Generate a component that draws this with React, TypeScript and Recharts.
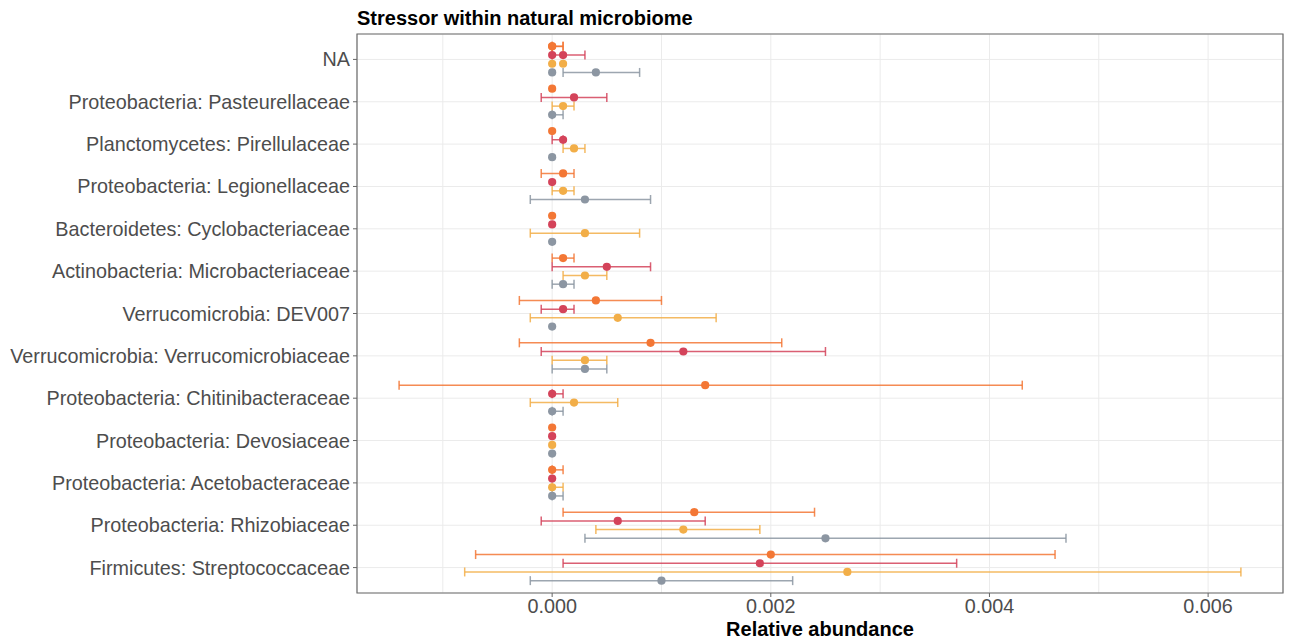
import React from "react";
import { ScatterChart, Scatter, XAxis, YAxis, CartesianGrid, ErrorBar, ReferenceArea } from "recharts";

const categories = [
  "NA",
  "Proteobacteria: Pasteurellaceae",
  "Planctomycetes: Pirellulaceae",
  "Proteobacteria: Legionellaceae",
  "Bacteroidetes: Cyclobacteriaceae",
  "Actinobacteria: Microbacteriaceae",
  "Verrucomicrobia: DEV007",
  "Verrucomicrobia: Verrucomicrobiaceae",
  "Proteobacteria: Chitinibacteraceae",
  "Proteobacteria: Devosiaceae",
  "Proteobacteria: Acetobacteraceae",
  "Proteobacteria: Rhizobiaceae",
  "Firmicutes: Streptococcaceae",
];

// row of each taxon (two unassigned taxa both land on "NA")
const taxonCategory = [0, 0, 1, 2, 3, 4, 5, 6, 7, 8, 9, 10, 11, 12];

const orangeMean = [0, 0, 0, 0, 0.0001, 0, 0.0001, 0.0004, 0.0009, 0.0014, 0, 0, 0.0013, 0.002];
const orangeLow = [0, 0, 0, 0, -0.0001, 0, 0, -0.0003, -0.0003, -0.0014, 0, 0, 0.0001, -0.0007];
const orangeHigh = [0.0001, 0.0001, 0, 0, 0.0002, 0, 0.0002, 0.001, 0.0021, 0.0043, 0, 0.0001, 0.0024, 0.0046];

const redMean = [0, 0.0001, 0.0002, 0.0001, 0, 0, 0.0005, 0.0001, 0.0012, 0, 0, 0, 0.0006, 0.0019];
const redLow = [0, 0, -0.0001, 0, 0, 0, 0, -0.0001, -0.0001, 0, 0, 0, -0.0001, 0.0001];
const redHigh = [0, 0.0003, 0.0005, 0.0001, 0, 0, 0.0009, 0.0002, 0.0025, 0.0001, 0, 0, 0.0014, 0.0037];

const yellowMean = [0, 0.0001, 0.0001, 0.0002, 0.0001, 0.0003, 0.0003, 0.0006, 0.0003, 0.0002, 0, 0, 0.0012, 0.0027];
const yellowLow = [0, 0.0001, 0, 0.0001, 0, -0.0002, 0.0001, -0.0002, 0, -0.0002, 0, 0, 0.0004, -0.0008];
const yellowHigh = [0, 0.0001, 0.0002, 0.0003, 0.0002, 0.0008, 0.0005, 0.0015, 0.0005, 0.0006, 0, 0.0001, 0.0019, 0.0063];

const grayMean = [0, 0.0004, 0, 0, 0.0003, 0, 0.0001, 0, 0.0003, 0, 0, 0, 0.0025, 0.001];
const grayLow = [0, 0.0001, 0, 0, -0.0002, 0, 0, 0, 0, 0, 0, 0, 0.0003, -0.0002];
const grayHigh = [0, 0.0008, 0.0001, 0, 0.0009, 0, 0.0002, 0, 0.0005, 0.0001, 0, 0.0001, 0.0047, 0.0022];

const xTicks = [-0.001, 0, 0.001, 0.002, 0.003, 0.004, 0.005, 0.006];
const xTickLabels = ["", "0.000", "", "0.002", "", "0.004", "", "0.006"];
const yTicks = categories.map((_, i) => i);

const X_DOMAIN: [number, number] = [-0.001785, 0.006685];
const Y_DOMAIN: [number, number] = [-0.6, 12.6];

const series = [
  { name: "orange", color: "#F37735", dodge: -0.308, mean: orangeMean, low: orangeLow, high: orangeHigh },
  { name: "red", color: "#D4435A", dodge: -0.103, mean: redMean, low: redLow, high: redHigh },
  { name: "yellow", color: "#F2AE48", dodge: 0.103, mean: yellowMean, low: yellowLow, high: yellowHigh },
  { name: "gray", color: "#8C96A2", dodge: 0.308, mean: grayMean, low: grayLow, high: grayHigh },
];

const toPoints = (s: (typeof series)[number]) =>
  taxonCategory.map((cat, i) => ({
    x: s.mean[i],
    y: cat + s.dodge,
    err: s.high[i] > s.low[i] ? [s.mean[i] - s.low[i], s.high[i] - s.mean[i]] : null,
  }));

const XTick = (props: any) => {
  const { x, y, index } = props;
  const label = xTickLabels[index];
  if (!label) return null;
  return (
    <g>
      <line x1={x} x2={x} y1={y - 6} y2={y - 2} stroke="#666" />
      <text x={x} y={y} dy="0.71em" textAnchor="middle" fill="#4D4D4D" fontSize={19.8}>
        {label}
      </text>
    </g>
  );
};

const YTick = (props: any) => {
  const { x, y, payload } = props;
  return (
    <g>
      <line x1={x + 3} x2={x + 7} y1={y} y2={y} stroke="#666" />
      <text x={x} y={y} dy="0.355em" textAnchor="end" fill="#4D4D4D" fontSize={19.8}>
        {categories[payload.value]}
      </text>
    </g>
  );
};

export default function App() {
  return (
    <div style={{ position: "relative", width: 1285, height: 633, fontFamily: "'Liberation Sans', Arial, sans-serif" }}>
      <div
        style={{
          position: "absolute",
          left: 349,
          top: 0,
          fontSize: 20,
          lineHeight: "20px",
          fontWeight: "bold",
          color: "#000",
          whiteSpace: "nowrap",
        }}
      >
        Stressor within natural microbiome
      </div>
      <ScatterChart width={1285} height={633} margin={{ top: 26, right: 10, bottom: 0, left: 0 }}>
        <CartesianGrid stroke="#EBEBEB" strokeWidth={1} />
        <XAxis
          type="number"
          dataKey="x"
          domain={X_DOMAIN}
          allowDataOverflow
          ticks={xTicks}
          interval={0}
          height={48}
          tickSize={4}
          tickMargin={2}
          tickLine={false}
          axisLine={false}
          tick={<XTick />}
          label={{
            value: "Relative abundance",
            position: "insideBottom",
            offset: 5,
            fill: "#000",
            fontSize: 20,
            fontWeight: "bold",
          }}
        />
        <YAxis
          type="number"
          dataKey="y"
          domain={Y_DOMAIN}
          allowDataOverflow
          reversed
          ticks={yTicks}
          interval={0}
          width={349}
          tickSize={4}
          tickMargin={3}
          tickLine={false}
          axisLine={false}
          tick={<YTick />}
        />
        {series.map((s) => (
          <Scatter
            key={s.name}
            name={s.name}
            data={toPoints(s)}
            isAnimationActive={false}
            shape={(p: any) => <circle cx={p.cx} cy={p.cy} r={4.1} fill={s.color} />}
          >
            <ErrorBar
              dataKey="err"
              direction="x"
              width={4.5}
              stroke={s.color}
              strokeWidth={1.5}
              strokeOpacity={0.85}
              isAnimationActive={false}
            />
          </Scatter>
        ))}
        <ReferenceArea
          x1={X_DOMAIN[0]}
          x2={X_DOMAIN[1]}
          y1={Y_DOMAIN[0]}
          y2={Y_DOMAIN[1]}
          fill="none"
          stroke="#6B6B6B"
          strokeWidth={1.2}
          ifOverflow="visible"
        />
      </ScatterChart>
    </div>
  );
}
